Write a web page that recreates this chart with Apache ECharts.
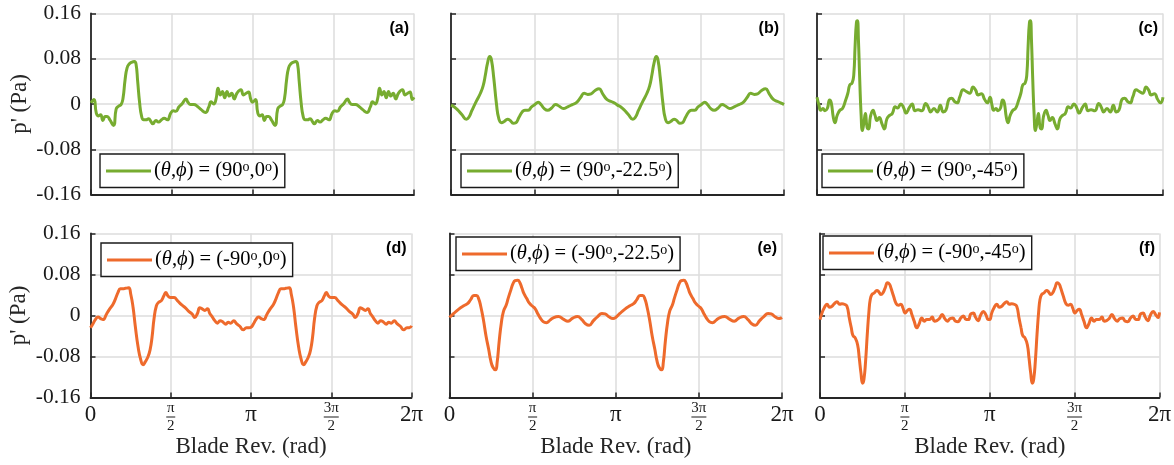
<!DOCTYPE html>
<html>
<head>
<meta charset="utf-8">
<script src="https://cdn.jsdelivr.net/npm/echarts@6/dist/echarts.min.js"></script>
<style>
  html, body { margin: 0; padding: 0; background: #fff; }
  #chart { width: 1174px; height: 465px; }
</style>
</head>
<body>
<div id="chart"></div>
<script>
// Acoustic pressure fluctuation p' (Pa) over one blade revolution (rad), six microphone positions.

const xTickLabels = ['0', 'π/2', 'π', '3π/2', '2π'];
const yTickLabels = ['-0.16', '-0.08', '0', '0.08', '0.16'];
const panelTags = ['(a)', '(b)', '(c)', '(d)', '(e)', '(f)'];
const seriesNames = [
  '(θ,ϕ) = (90°,0°)', '(θ,ϕ) = (90°,-22.5°)', '(θ,ϕ) = (90°,-45°)',
  '(θ,ϕ) = (-90°,0°)', '(θ,ϕ) = (-90°,-22.5°)', '(θ,ϕ) = (-90°,-45°)'
];

// (a) θ = 90°, ϕ = 0°
const angA = [0.000,0.058,0.103,0.148,0.187,0.232,0.277,0.315,0.367,0.438,0.489,0.534,0.586,0.624,0.663,0.702,0.747,0.798,0.843,0.875,0.908,0.946,0.985,1.024,1.069,1.120,1.165,1.204,1.262,1.313,1.371,1.423,1.487,1.551,1.603,1.648,1.712,1.777,1.847,1.886,1.937,2.002,2.066,2.144,2.227,2.292,2.337,2.388,2.433,2.472,2.517,2.556,2.601,2.646,2.691,2.736,2.787,2.839,2.916,2.967,3.019,3.064,3.109,
  3.142,3.200,3.245,3.290,3.329,3.374,3.419,3.457,3.509,3.580,3.631,3.676,3.728,3.766,3.805,3.844,3.889,3.940,3.985,4.017,4.050,4.088,4.127,4.166,4.211,4.262,4.307,4.346,4.404,4.455,4.513,4.565,4.629,4.693,4.745,4.790,4.854,4.919,4.989,5.028,5.079,5.144,5.208,5.286,5.369,5.434,5.479,5.530,5.575,5.614,5.659,5.698,5.743,5.788,5.833,5.878,5.929,5.981,6.058,6.109,6.161,6.206,6.251,6.283];
const presA = [0.002,0.008,-0.016,-0.021,-0.019,-0.029,-0.022,-0.022,-0.028,-0.038,-0.009,-0.004,-0.001,0.011,0.043,0.064,0.071,0.074,0.075,0.071,0.040,0.002,-0.022,-0.028,-0.028,-0.026,-0.031,-0.035,-0.029,-0.032,-0.028,-0.025,-0.028,-0.016,-0.012,-0.013,-0.005,0.001,0.009,0.003,-0.001,-0.001,-0.004,-0.010,-0.015,-0.005,0.004,0.000,0.009,0.028,0.016,0.022,0.011,0.022,0.014,0.019,0.009,0.019,0.025,0.016,0.019,0.021,0.008,
  0.003,0.008,-0.016,-0.021,-0.019,-0.029,-0.022,-0.022,-0.028,-0.038,-0.009,-0.004,-0.001,0.011,0.043,0.064,0.071,0.074,0.075,0.071,0.040,0.002,-0.022,-0.028,-0.028,-0.026,-0.031,-0.035,-0.029,-0.032,-0.028,-0.025,-0.028,-0.016,-0.012,-0.013,-0.005,0.001,0.009,0.003,-0.001,-0.001,-0.004,-0.010,-0.015,-0.005,0.004,0.000,0.009,0.028,0.016,0.022,0.011,0.022,0.014,0.019,0.009,0.019,0.025,0.016,0.019,0.021,0.008,0.012];

// (b) θ = 90°, ϕ = -22.5°
const angB = [0.000,0.057,0.132,0.208,0.290,0.334,0.397,0.479,0.555,0.606,0.650,0.688,0.732,0.763,0.807,0.858,0.902,0.953,1.003,1.066,1.117,1.173,1.224,1.281,1.344,1.394,1.457,1.520,1.583,1.646,1.697,1.760,1.823,1.899,1.974,2.044,2.120,2.201,2.290,2.372,2.448,2.511,2.580,2.643,2.719,2.794,2.857,2.940,3.034,3.100,
  3.142,3.199,3.274,3.350,3.432,3.476,3.539,3.621,3.697,3.748,3.792,3.830,3.874,3.905,3.949,4.000,4.044,4.095,4.145,4.208,4.259,4.315,4.366,4.423,4.486,4.536,4.599,4.662,4.725,4.788,4.839,4.902,4.965,5.041,5.116,5.186,5.262,5.343,5.432,5.514,5.590,5.653,5.722,5.785,5.861,5.936,5.999,6.082,6.176,6.242,6.283];
const presB = [-0.002,-0.005,-0.011,-0.019,-0.027,-0.024,-0.011,0.005,0.019,0.032,0.052,0.072,0.084,0.078,0.046,0.000,-0.026,-0.033,-0.031,-0.027,-0.029,-0.034,-0.033,-0.024,-0.014,-0.011,-0.011,-0.005,-0.001,0.003,-0.001,-0.008,-0.011,-0.007,-0.001,-0.004,-0.008,-0.005,-0.001,0.003,0.012,0.019,0.017,0.018,0.024,0.027,0.019,0.008,0.004,0.001,
  -0.002,-0.005,-0.011,-0.019,-0.027,-0.024,-0.011,0.005,0.019,0.032,0.052,0.072,0.084,0.078,0.046,0.000,-0.026,-0.033,-0.031,-0.027,-0.029,-0.034,-0.033,-0.024,-0.014,-0.011,-0.011,-0.005,-0.001,0.003,-0.001,-0.008,-0.011,-0.007,-0.001,-0.004,-0.008,-0.005,-0.001,0.003,0.012,0.019,0.017,0.018,0.024,0.027,0.019,0.008,0.004,0.001,-0.001];

// (c) θ = 90°, ϕ = -45°
const angC = [0.000,0.036,0.066,0.108,0.144,0.187,0.229,0.259,0.295,0.325,0.367,0.415,0.463,0.518,0.560,0.596,0.638,0.668,0.692,0.716,0.734,0.752,0.776,0.800,0.824,0.849,0.879,0.909,0.939,0.969,1.017,1.053,1.089,1.131,1.180,1.222,1.270,1.318,1.366,1.420,1.462,1.523,1.571,1.619,1.679,1.727,1.781,1.835,1.902,1.974,2.022,2.064,2.124,2.185,2.239,2.293,2.341,2.395,2.443,2.503,2.546,2.594,2.654,2.714,2.774,2.834,2.883,2.925,2.985,3.045,3.095,
  3.142,3.178,3.208,3.250,3.286,3.329,3.371,3.401,3.437,3.467,3.509,3.557,3.605,3.660,3.702,3.738,3.780,3.810,3.834,3.858,3.876,3.894,3.918,3.942,3.966,3.991,4.021,4.051,4.081,4.111,4.159,4.195,4.231,4.273,4.322,4.364,4.412,4.460,4.508,4.562,4.604,4.665,4.713,4.761,4.821,4.869,4.923,4.977,5.044,5.116,5.164,5.206,5.266,5.327,5.381,5.435,5.483,5.537,5.585,5.645,5.688,5.736,5.796,5.856,5.916,5.976,6.025,6.067,6.127,6.187,6.237,6.283];
const presC = [0.012,-0.002,-0.011,-0.008,-0.012,-0.008,0.007,0.002,-0.023,-0.033,-0.020,-0.011,-0.008,0.006,0.019,0.034,0.037,0.052,0.103,0.144,0.147,0.115,0.043,-0.017,-0.047,-0.035,-0.017,-0.041,-0.044,-0.023,-0.011,-0.020,-0.029,-0.024,-0.035,-0.044,-0.026,-0.020,-0.017,-0.005,-0.007,0.000,-0.006,-0.016,-0.006,0.000,-0.012,-0.010,-0.012,0.001,-0.006,-0.014,-0.008,-0.014,-0.002,-0.014,-0.011,0.008,0.010,0.004,0.002,0.013,0.025,0.022,0.019,0.030,0.024,0.016,0.018,0.008,0.002,
  0.012,-0.002,-0.011,-0.008,-0.012,-0.008,0.007,0.002,-0.023,-0.033,-0.020,-0.011,-0.008,0.006,0.019,0.034,0.037,0.052,0.103,0.144,0.147,0.115,0.043,-0.017,-0.047,-0.035,-0.017,-0.041,-0.044,-0.023,-0.011,-0.020,-0.029,-0.024,-0.035,-0.044,-0.026,-0.020,-0.017,-0.005,-0.007,0.000,-0.006,-0.016,-0.006,0.000,-0.012,-0.010,-0.012,0.001,-0.006,-0.014,-0.008,-0.014,-0.002,-0.014,-0.011,0.008,0.010,0.004,0.002,0.013,0.025,0.022,0.019,0.030,0.024,0.016,0.018,0.008,0.002,0.012];

// (d) θ = -90°, ϕ = 0°
const angD = [0.000,0.049,0.095,0.147,0.199,0.245,0.310,0.376,0.441,0.487,0.539,0.585,0.637,0.682,0.748,0.787,0.833,0.878,0.931,0.983,1.029,1.074,1.127,1.166,1.205,1.244,1.290,1.336,1.388,1.434,1.473,1.518,1.571,1.636,1.701,1.780,1.858,1.923,1.989,2.041,2.093,2.139,2.185,2.237,2.289,2.335,2.380,2.433,2.485,2.537,2.596,2.648,2.694,2.746,2.805,2.857,2.923,2.988,3.053,3.100,
  3.142,3.191,3.237,3.289,3.341,3.387,3.452,3.518,3.583,3.629,3.681,3.727,3.779,3.824,3.890,3.929,3.975,4.020,4.073,4.125,4.171,4.216,4.269,4.308,4.347,4.386,4.432,4.478,4.530,4.576,4.615,4.660,4.713,4.778,4.843,4.922,5.000,5.065,5.131,5.183,5.235,5.281,5.327,5.379,5.431,5.477,5.522,5.575,5.627,5.679,5.738,5.790,5.836,5.888,5.947,5.999,6.065,6.130,6.195,6.242,6.283];
const presD = [-0.024,-0.016,-0.008,-0.003,-0.006,-0.008,0.002,0.013,0.022,0.032,0.045,0.052,0.052,0.053,0.054,0.042,0.016,-0.022,-0.061,-0.086,-0.096,-0.090,-0.080,-0.067,-0.042,-0.006,0.019,0.026,0.029,0.038,0.045,0.038,0.035,0.035,0.029,0.021,0.015,0.008,0.003,-0.004,0.004,0.015,0.013,0.010,0.013,0.004,-0.002,-0.010,-0.015,-0.010,-0.013,-0.017,-0.013,-0.015,-0.010,-0.016,-0.021,-0.028,-0.024,-0.024,
  -0.023,-0.016,-0.008,-0.003,-0.006,-0.008,0.002,0.013,0.022,0.032,0.045,0.052,0.052,0.053,0.054,0.042,0.016,-0.022,-0.061,-0.086,-0.096,-0.090,-0.080,-0.067,-0.042,-0.006,0.019,0.026,0.029,0.038,0.045,0.038,0.035,0.035,0.029,0.021,0.015,0.008,0.003,-0.004,0.004,0.015,0.013,0.010,0.013,0.004,-0.002,-0.010,-0.015,-0.010,-0.013,-0.017,-0.013,-0.015,-0.010,-0.016,-0.021,-0.028,-0.024,-0.024,-0.020];

// (e) θ = -90°, ϕ = -22.5°
const angE = [0.00,0.08,0.17,0.27,0.34,0.40,0.46,0.51,0.55,0.59,0.64,0.69,0.74,0.78,0.82,0.87,0.90,0.94,0.98,1.02,1.07,1.11,1.16,1.20,1.24,1.29,1.33,1.37,1.41,1.46,1.51,1.57,1.62,1.66,1.71,1.77,1.83,1.90,1.97,2.06,2.15,2.24,2.33,2.42,2.50,2.57,2.64,2.72,2.80,2.88,2.94,3.02,3.09,
  3.14,3.22,3.31,3.41,3.48,3.54,3.60,3.65,3.69,3.73,3.78,3.83,3.88,3.92,3.96,4.01,4.04,4.08,4.12,4.16,4.21,4.25,4.30,4.34,4.38,4.43,4.47,4.51,4.55,4.60,4.65,4.71,4.76,4.80,4.85,4.91,4.97,5.04,5.11,5.20,5.29,5.38,5.47,5.56,5.64,5.71,5.78,5.86,5.94,6.02,6.08,6.16,6.23,6.283];
const presE = [-0.004,0.004,0.012,0.019,0.023,0.031,0.039,0.039,0.033,0.018,-0.008,-0.040,-0.066,-0.088,-0.101,-0.106,-0.092,-0.049,-0.014,0.008,0.020,0.034,0.050,0.062,0.068,0.069,0.064,0.053,0.042,0.033,0.024,0.018,0.013,0.005,-0.004,-0.012,-0.014,-0.009,-0.004,-0.002,-0.007,-0.011,-0.005,-0.002,-0.008,-0.016,-0.019,-0.010,-0.002,0.004,0.003,-0.003,-0.006,
  -0.004,0.004,0.012,0.019,0.023,0.031,0.039,0.039,0.033,0.018,-0.008,-0.040,-0.066,-0.088,-0.101,-0.106,-0.092,-0.049,-0.014,0.008,0.020,0.034,0.050,0.062,0.068,0.069,0.064,0.053,0.042,0.033,0.024,0.018,0.013,0.005,-0.004,-0.012,-0.014,-0.009,-0.004,-0.002,-0.007,-0.011,-0.005,-0.002,-0.008,-0.016,-0.019,-0.010,-0.002,0.004,0.003,-0.003,-0.006,-0.004];

// (f) θ = -90°, ϕ = -45°
const angF = [0.000,0.037,0.080,0.129,0.179,0.222,0.265,0.314,0.363,0.407,0.450,0.499,0.542,0.579,0.610,0.653,0.696,0.727,0.758,0.788,0.813,0.844,0.875,0.906,0.930,0.961,1.004,1.053,1.090,1.127,1.164,1.207,1.250,1.287,1.312,1.361,1.411,1.454,1.497,1.534,1.577,1.620,1.657,1.700,1.743,1.793,1.836,1.885,1.928,1.977,2.027,2.076,2.119,2.162,2.211,2.261,2.310,2.359,2.409,2.458,2.507,2.556,2.606,2.655,2.704,2.747,2.790,2.840,2.877,2.926,2.975,3.025,3.068,3.117,
  3.142,3.179,3.222,3.271,3.321,3.364,3.407,3.456,3.505,3.549,3.592,3.641,3.684,3.721,3.752,3.795,3.838,3.869,3.900,3.930,3.955,3.986,4.017,4.048,4.072,4.103,4.146,4.195,4.232,4.269,4.306,4.349,4.392,4.429,4.454,4.503,4.553,4.596,4.639,4.676,4.719,4.762,4.799,4.842,4.885,4.935,4.978,5.027,5.070,5.119,5.169,5.218,5.261,5.304,5.353,5.403,5.452,5.501,5.551,5.600,5.649,5.698,5.748,5.797,5.846,5.889,5.932,5.982,6.019,6.068,6.117,6.167,6.210,6.259,6.283];
const presF = [-0.008,0.005,0.015,0.022,0.016,0.018,0.023,0.027,0.022,0.023,0.022,0.018,-0.005,-0.024,-0.039,-0.044,-0.057,-0.083,-0.112,-0.132,-0.125,-0.089,-0.037,0.008,0.031,0.041,0.044,0.049,0.046,0.041,0.044,0.054,0.064,0.061,0.054,0.038,0.023,0.020,0.022,0.015,0.005,0.010,0.012,0.002,-0.011,-0.024,-0.016,-0.005,-0.011,-0.008,-0.008,-0.003,-0.011,-0.010,-0.006,0.002,-0.006,-0.011,-0.006,-0.005,-0.011,-0.012,-0.005,-0.001,-0.008,-0.008,0.003,0.005,-0.003,-0.010,0.001,0.008,0.002,-0.008,
  -0.008,0.005,0.015,0.022,0.016,0.018,0.023,0.027,0.022,0.023,0.022,0.018,-0.005,-0.024,-0.039,-0.044,-0.057,-0.083,-0.112,-0.132,-0.125,-0.089,-0.037,0.008,0.031,0.041,0.044,0.049,0.046,0.041,0.044,0.054,0.064,0.061,0.054,0.038,0.023,0.020,0.022,0.015,0.005,0.010,0.012,0.002,-0.011,-0.024,-0.016,-0.005,-0.011,-0.008,-0.008,-0.003,-0.011,-0.010,-0.006,0.002,-0.006,-0.011,-0.006,-0.005,-0.011,-0.012,-0.005,-0.001,-0.008,-0.008,0.003,0.005,-0.003,-0.010,0.001,0.008,0.002,-0.004,0.006];

const GREEN = '#77AC30';
const ORANGE = '#EE6A2C';
const SERIF = 'Liberation Serif';
const SANS = 'Liberation Sans';
const AXIS_COLOR = '#262626';
const GRID_COLOR = '#dcdcdc';

// Panel boxes (px) and legend anchors
const panels = [
  { ang: angA, p: presA, color: GREEN,  box: { left: 91,    top: 13.5,  width: 323,   height: 181 }, legend: { left: 100, top: 154 } },
  { ang: angB, p: presB, color: GREEN,  box: { left: 451,   top: 13.5,  width: 333,   height: 181 }, legend: { left: 461, top: 154 } },
  { ang: angC, p: presC, color: GREEN,  box: { left: 817,   top: 13.5,  width: 346,   height: 181 }, legend: { left: 822, top: 154 } },
  { ang: angD, p: presD, color: ORANGE, box: { left: 90.5,  top: 233.5, width: 321,   height: 164 }, legend: { left: 101, top: 243 } },
  { ang: angE, p: presE, color: ORANGE, box: { left: 449.5, top: 233.5, width: 332.5, height: 164 }, legend: { left: 456, top: 237 } },
  { ang: angF, p: presF, color: ORANGE, box: { left: 820,   top: 233.5, width: 340,   height: 164 }, legend: { left: 823, top: 236 } }
];

// 'π/2' -> stacked fraction, otherwise a single centred line
function xTickRich(label) {
  const parts = label.split('/');
  if (parts.length === 2) {
    const bar = parts[0].length > 1 ? 'bar2' : 'bar1';
    return '{n|' + parts[0] + '}\n{' + bar + '| }\n{d|' + parts[1] + '}';
  }
  return '{m|' + label + '}';
}

// legend text: italic Greek letters, superscript 'o' for degrees
function legendRich(name) {
  let out = '', buf = '';
  const flush = () => { if (buf) { out += '{r|' + buf + '}'; buf = ''; } };
  for (const ch of name) {
    if (ch === '°') { flush(); out += '{s|o}'; }
    else if (ch === 'θ' || ch === 'ϕ') { flush(); out += '{i|' + ch + '}'; }
    else buf += ch;
  }
  flush();
  return out;
}

const grid = [], xAxis = [], yAxis = [], series = [], legend = [], graphic = [];

panels.forEach((pn, i) => {
  const bottomRow = i >= 3;
  const leftCol = i % 3 === 0;
  grid.push(Object.assign({ containLabel: false }, pn.box));

  xAxis.push({
    type: 'value', gridIndex: i, min: 0, max: 2, interval: 0.5,
    axisLine: { show: true, onZero: false, lineStyle: { color: AXIS_COLOR, width: 1.8 } },
    axisTick: { show: true, inside: true, length: 5, lineStyle: { color: AXIS_COLOR, width: 1.5 } },
    splitLine: { show: true, lineStyle: { color: GRID_COLOR, width: 1.5 } },
    axisLabel: {
      show: bottomRow, margin: 3, color: '#000', fontFamily: SERIF, fontSize: 22,
      formatter: v => xTickRich(xTickLabels[Math.round(v / 0.5)]),
      rich: {
        m: { fontFamily: SERIF, fontSize: 23, lineHeight: 28, color: '#1a1a1a' },
        n: { fontFamily: SERIF, fontSize: 15, lineHeight: 15, color: '#1a1a1a' },
        d: { fontFamily: SERIF, fontSize: 15, lineHeight: 15, color: '#1a1a1a' },
        bar1: { width: 9, height: 1, lineHeight: 3, fontSize: 1, backgroundColor: '#1a1a1a' },
        bar2: { width: 15, height: 1, lineHeight: 3, fontSize: 1, backgroundColor: '#1a1a1a' }
      }
    },
    name: bottomRow ? 'Blade Rev. (rad)' : '',
    nameLocation: 'middle', nameGap: 38,
    nameTextStyle: { fontFamily: SERIF, fontSize: 23, color: '#262626' }
  });

  yAxis.push({
    type: 'value', gridIndex: i, min: -0.16, max: 0.16, interval: 0.08,
    axisLine: { show: true, onZero: false, lineStyle: { color: AXIS_COLOR, width: 1.8 } },
    axisTick: { show: true, inside: true, length: 5, lineStyle: { color: AXIS_COLOR, width: 1.5 } },
    splitLine: { show: true, lineStyle: { color: GRID_COLOR, width: 1.5 } },
    axisLabel: {
      show: leftCol, margin: 10, color: '#1a1a1a', fontFamily: SERIF, fontSize: 21.5,
      formatter: v => yTickLabels[Math.round((v + 0.16) / 0.08)]
    },
    name: leftCol ? "p' (Pa)" : '',
    nameLocation: 'middle', nameGap: 60, nameRotate: 90,
    nameTextStyle: { fontFamily: SERIF, fontSize: 23, color: '#262626' }
  });

  series.push({
    name: seriesNames[i], type: 'line', xAxisIndex: i, yAxisIndex: i,
    data: pn.ang.map((a, k) => [a / Math.PI, pn.p[k]]),
    symbol: 'none', smooth: 0.5,
    lineStyle: { color: pn.color, width: 3 }, itemStyle: { color: pn.color },
    z: 3
  });

  legend.push({
    data: [seriesNames[i]], left: pn.legend.left, top: pn.legend.top,
    orient: 'horizontal', selectedMode: false,
    icon: 'rect', itemWidth: 45, itemHeight: 3, itemGap: 0,
    backgroundColor: '#fff', borderColor: '#1a1a1a', borderWidth: 1.4, borderRadius: 0,
    padding: [6, 6, 6, 6],
    formatter: name => legendRich(name),
    textStyle: {
      fontFamily: SERIF, fontSize: 20,
      padding: [0, 0, 0, -2],
      rich: {
        r: { fontFamily: SERIF, fontSize: 20.5, lineHeight: 22, color: '#000' },
        i: { fontFamily: SERIF, fontSize: 20.5, lineHeight: 22, fontStyle: 'italic', color: '#000' },
        s: { fontFamily: SERIF, fontSize: 14, lineHeight: 12, verticalAlign: 'top', color: '#000' }
      }
    }
  });

  graphic.push({
    type: 'text',
    x: pn.box.left + pn.box.width - 5,
    y: pn.box.top + 15,
    style: { text: panelTags[i], font: 'bold 16px ' + SANS, fill: '#000', textAlign: 'right', textVerticalAlign: 'middle' },
    z: 10
  });
});

const chart = echarts.init(document.getElementById('chart'));
chart.setOption({
  animation: false,
  backgroundColor: '#fff',
  textStyle: { fontFamily: SERIF },
  grid, xAxis, yAxis, series, legend, graphic
});
</script>
</body>
</html>
